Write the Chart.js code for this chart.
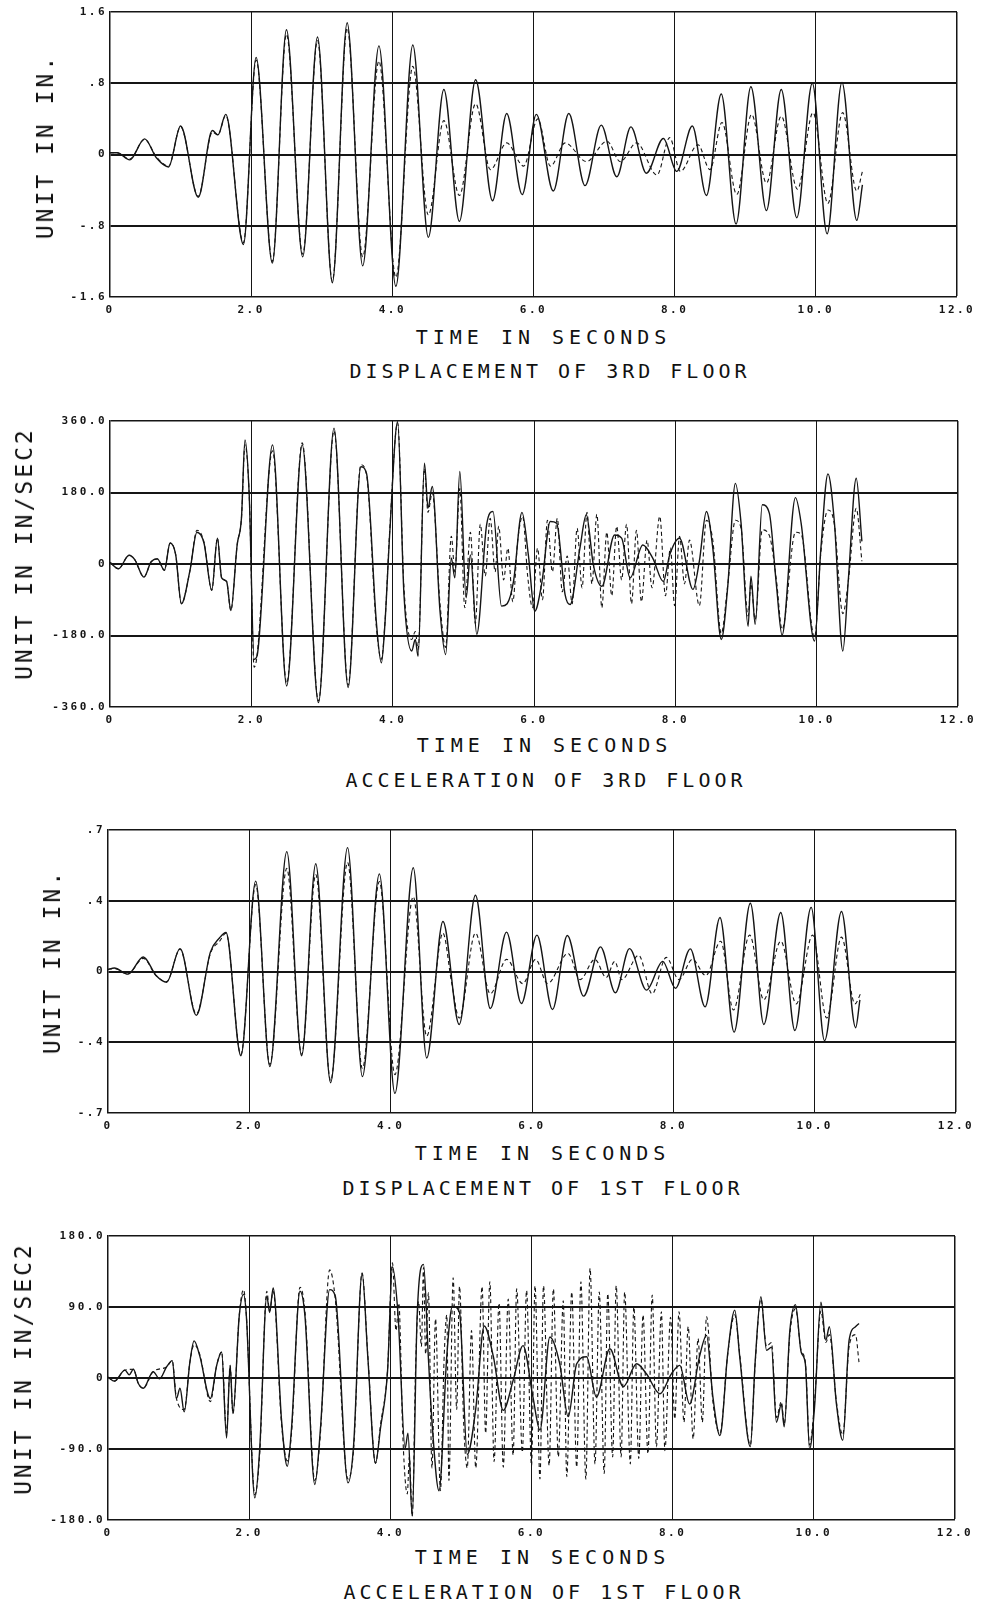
<!DOCTYPE html>
<html>
<head>
<meta charset="utf-8">
<script src="https://cdn.jsdelivr.net/npm/chart.js@4.4.0/dist/chart.umd.min.js"></script>
<style>
  html, body { margin: 0; padding: 0; background: #fff; }
  #page { position: relative; width: 981px; height: 1608px; overflow: hidden; }
  canvas { position: absolute; left: 0; }
  .lbl { position: absolute; font-family: "DejaVu Sans Mono", monospace; color: #111; white-space: nowrap; transform: translate(-50%, -50%); }
  .xt { font-size: 20px; letter-spacing: 5px; padding-left: 5px; }
  .ttl { font-size: 20px; letter-spacing: 4px; padding-left: 4px; }
  .yt { font-size: 23px; letter-spacing: 3px; padding-left: 3px; transform: translate(-50%, -50%) rotate(-90deg); }
</style>
</head>
<body>
<div id="page"></div>
<script>
// time axis (seconds)
const timeTicks = [0, 2, 4, 6, 8, 10, 12];
const timeLabels = ['0', '2.0', '4.0', '6.0', '8.0', '10.0', '12.0'];

// displacement of 3rd floor (in.)  [t, value]
const disp3TickValues = [-1.6, -0.8, 0, 0.8, 1.6];
const disp3TickLabels = ['-1.6', '-.8', '0', '.8', '1.6'];
const disp3Solid = [[0,0.02],[0.1,0.02],[0.28,-0.06],[0.49,0.175],[0.66,-0.04],[0.83,-0.14],[1.0,0.32],[1.25,-0.48],[1.45,0.27],[1.53,0.22],[1.64,0.45],[1.89,-1.01],[2.07,1.09],[2.30,-1.22],[2.50,1.40],[2.73,-1.15],[2.94,1.32],[3.15,-1.44],[3.36,1.48],[3.58,-1.25],[3.81,1.22],[4.05,-1.48],[4.29,1.23],[4.51,-0.93],[4.73,0.73],[4.95,-0.75],[5.18,0.84],[5.42,-0.52],[5.62,0.46],[5.84,-0.45],[6.04,0.45],[6.28,-0.41],[6.50,0.46],[6.73,-0.35],[6.96,0.33],[7.18,-0.25],[7.38,0.31],[7.60,-0.21],[7.84,0.18],[8.03,-0.19],[8.25,0.32],[8.45,-0.46],[8.66,0.68],[8.87,-0.78],[9.08,0.76],[9.30,-0.63],[9.51,0.73],[9.73,-0.71],[9.95,0.80],[10.16,-0.89],[10.37,0.81],[10.58,-0.74],[10.66,-0.34]];
const disp3Dashed = [[0,0.02],[0.1,0.02],[0.28,-0.05],[0.49,0.17],[0.66,-0.03],[0.83,-0.13],[1.0,0.31],[1.25,-0.47],[1.45,0.25],[1.53,0.22],[1.64,0.44],[1.89,-0.99],[2.07,1.06],[2.30,-1.20],[2.50,1.35],[2.73,-1.12],[2.94,1.28],[3.15,-1.42],[3.36,1.42],[3.58,-1.15],[3.81,1.05],[4.05,-1.38],[4.29,0.99],[4.51,-0.68],[4.73,0.38],[4.95,-0.46],[5.18,0.57],[5.39,-0.17],[5.62,0.13],[5.86,-0.13],[6.06,0.40],[6.24,-0.13],[6.45,0.13],[6.75,-0.08],[7.04,0.15],[7.23,-0.08],[7.46,0.13],[7.75,-0.23],[7.93,0.19],[8.08,-0.19],[8.33,0.11],[8.50,-0.17],[8.67,0.36],[8.88,-0.45],[9.09,0.45],[9.30,-0.32],[9.51,0.43],[9.74,-0.39],[9.96,0.47],[10.17,-0.55],[10.38,0.47],[10.58,-0.41],[10.66,-0.19]];

// acceleration of 3rd floor (in/sec2)
const acc3TickValues = [-360, -180, 0, 180, 360];
const acc3TickLabels = ['-360.0', '-180.0', '0', '180.0', '360.0'];
const acc3Solid = [[0,4],[0.12,-12],[0.27,22],[0.35,11],[0.48,-33],[0.58,5],[0.67,13],[0.77,-16],[0.85,53],[0.93,23],[1.01,-100],[1.13,-18],[1.23,80],[1.33,53],[1.44,-66],[1.52,65],[1.58,-35],[1.65,-44],[1.71,-117],[1.80,49],[1.86,115],[1.91,312],[1.97,174],[2.04,-240],[2.08,-232],[2.30,300],[2.50,-307],[2.72,300],[2.95,-349],[3.17,342],[3.37,-311],[3.55,245],[3.63,228],[3.77,-148],[3.84,-249],[3.89,-152],[3.96,82],[4.07,358],[4.16,-77],[4.27,-219],[4.32,-190],[4.36,-232],[4.45,254],[4.50,141],[4.56,195],[4.67,-119],[4.75,-228],[4.83,15],[4.88,-35],[4.95,233],[5.04,-85],[5.10,23],[5.19,-177],[5.33,99],[5.42,132],[5.54,-106],[5.62,-100],[5.71,-44],[5.83,130],[5.92,23],[6.01,-119],[6.11,-48],[6.23,107],[6.32,103],[6.44,-77],[6.51,-102],[6.65,40],[6.74,124],[6.84,-2],[6.96,-56],[7.14,73],[7.24,65],[7.36,-35],[7.54,48],[7.68,15],[7.83,-44],[7.92,23],[8.06,65],[8.25,-64],[8.34,7],[8.44,132],[8.53,40],[8.65,-190],[8.74,-60],[8.85,203],[8.93,103],[9.03,-157],[9.07,-31],[9.13,-152],[9.23,149],[9.33,128],[9.43,-52],[9.51,-179],[9.70,167],[9.78,103],[9.97,-194],[10.06,40],[10.16,227],[10.25,107],[10.37,-219],[10.45,-35],[10.56,216],[10.64,57]];
const acc3Dashed = [[0,4],[0.12,-12],[0.27,22],[0.35,11],[0.48,-33],[0.58,5],[0.67,13],[0.77,-16],[0.85,53],[0.93,23],[1.01,-100],[1.13,-18],[1.23,85],[1.33,55],[1.44,-66],[1.52,65],[1.58,-35],[1.65,-44],[1.71,-117],[1.80,49],[1.86,115],[1.91,300],[1.97,174],[2.04,-260],[2.08,-232],[2.30,285],[2.50,-300],[2.72,305],[2.95,-345],[3.17,335],[3.37,-305],[3.55,250],[3.63,225],[3.77,-160],[3.84,-240],[3.89,-150],[3.96,90],[4.07,355],[4.16,-60],[4.27,-190],[4.32,-170],[4.36,-215],[4.45,240],[4.50,130],[4.56,180],[4.67,-100],[4.75,-210],[4.83,70],[4.88,-20],[4.95,190],[5.02,-110],[5.10,80],[5.17,-150],[5.24,100],[5.31,-30],[5.38,115],[5.45,-20],[5.50,95],[5.57,-40],[5.63,40],[5.70,-95],[5.77,60],[5.84,120],[5.91,-30],[5.98,-110],[6.05,40],[6.12,-90],[6.19,110],[6.26,-20],[6.33,115],[6.40,-70],[6.47,20],[6.54,-100],[6.61,90],[6.68,-60],[6.75,130],[6.82,-50],[6.89,125],[6.96,-110],[7.03,80],[7.10,-80],[7.17,95],[7.24,-40],[7.31,100],[7.38,-100],[7.45,85],[7.52,-95],[7.60,60],[7.67,-60],[7.78,120],[7.86,-80],[7.93,40],[7.99,-105],[8.06,70],[8.13,-50],[8.20,60],[8.34,-105],[8.44,110],[8.53,60],[8.65,-175],[8.74,-55],[8.85,110],[8.93,90],[9.03,-131],[9.07,-50],[9.13,-140],[9.23,86],[9.33,72],[9.43,-40],[9.51,-165],[9.70,80],[9.78,75],[9.97,-185],[10.06,30],[10.16,136],[10.25,100],[10.37,-125],[10.45,-40],[10.56,140],[10.64,7]];

// displacement of 1st floor (in.)
const disp1TickValues = [-0.7, -0.35, 0, 0.35, 0.7];
const disp1TickLabels = ['-.7', '-.4', '0', '.4', '.7'];
const disp1Solid = [[0,0.01],[0.09,0.017],[0.28,-0.013],[0.50,0.072],[0.68,-0.02],[0.83,-0.053],[1.02,0.113],[1.25,-0.217],[1.45,0.097],[1.58,0.167],[1.67,0.193],[1.88,-0.417],[2.09,0.447],[2.29,-0.47],[2.53,0.593],[2.74,-0.417],[2.94,0.533],[3.15,-0.55],[3.39,0.613],[3.60,-0.52],[3.84,0.483],[4.06,-0.603],[4.32,0.513],[4.51,-0.428],[4.74,0.247],[4.97,-0.262],[5.20,0.377],[5.41,-0.183],[5.64,0.195],[5.85,-0.158],[6.07,0.180],[6.29,-0.188],[6.50,0.178],[6.73,-0.122],[6.97,0.122],[7.18,-0.105],[7.38,0.113],[7.62,-0.092],[7.85,0.05],[8.03,-0.083],[8.24,0.112],[8.45,-0.175],[8.66,0.267],[8.86,-0.30],[9.09,0.338],[9.28,-0.262],[9.52,0.292],[9.72,-0.292],[9.95,0.317],[10.14,-0.342],[10.38,0.297],[10.58,-0.278],[10.64,-0.14]];
const disp1Dashed = [[0,0.01],[0.09,0.015],[0.28,-0.012],[0.50,0.065],[0.68,-0.02],[0.83,-0.05],[1.02,0.11],[1.25,-0.21],[1.45,0.09],[1.58,0.15],[1.67,0.19],[1.88,-0.41],[2.09,0.43],[2.29,-0.46],[2.53,0.51],[2.74,-0.41],[2.94,0.48],[3.15,-0.54],[3.39,0.54],[3.60,-0.48],[3.84,0.445],[4.06,-0.51],[4.32,0.37],[4.51,-0.32],[4.74,0.19],[4.86,-0.05],[4.97,-0.23],[5.20,0.19],[5.41,-0.11],[5.64,0.06],[5.87,-0.06],[6.05,0.06],[6.22,-0.06],[6.51,0.09],[6.68,-0.04],[6.89,0.06],[7.05,-0.03],[7.17,0.05],[7.27,-0.04],[7.51,0.08],[7.70,-0.11],[7.90,0.07],[8.08,-0.04],[8.27,0.06],[8.46,-0.02],[8.67,0.15],[8.85,-0.19],[9.08,0.18],[9.28,-0.14],[9.52,0.15],[9.74,-0.16],[9.97,0.18],[10.17,-0.23],[10.38,0.17],[10.57,-0.16],[10.65,-0.11]];

// acceleration of 1st floor (in/sec2)
const acc1TickValues = [-180, -90, 0, 90, 180];
const acc1TickLabels = ['-180.0', '-90.0', '0', '90.0', '180.0'];
const acc1Solid = [[0,1],[0.09,-4],[0.24,10],[0.30,4],[0.36,11],[0.43,-7],[0.50,-13],[0.64,8],[0.73,-1],[0.83,14],[0.91,22],[0.97,-26],[1.02,-13],[1.08,-43],[1.16,20],[1.22,47],[1.30,28],[1.45,-26],[1.54,16],[1.61,33],[1.68,-76],[1.73,16],[1.77,-45],[1.86,79],[1.92,106],[1.96,79],[2.08,-152],[2.15,-89],[2.25,104],[2.29,83],[2.34,114],[2.46,-55],[2.54,-112],[2.60,-64],[2.72,110],[2.79,79],[2.93,-135],[3.01,-64],[3.14,112],[3.22,104],[3.40,-133],[3.48,-85],[3.60,133],[3.68,28],[3.79,-108],[3.86,-64],[3.96,8],[4.03,141],[4.11,79],[4.21,-89],[4.25,-70],[4.31,-175],[4.38,79],[4.47,144],[4.54,24],[4.59,-55],[4.69,-143],[4.80,28],[4.88,91],[4.98,83],[5.09,-97],[5.21,-39],[5.33,66],[5.46,27],[5.60,-41],[5.74,-3],[5.88,41],[6.02,-24],[6.12,-66],[6.26,52],[6.40,18],[6.52,-49],[6.64,18],[6.78,27],[6.92,-24],[7.11,37],[7.30,-11],[7.49,18],[7.63,5],[7.82,-20],[7.98,5],[8.10,16],[8.24,-33],[8.38,27],[8.48,54],[8.57,-24],[8.67,-73],[8.78,31],[8.88,86],[8.95,27],[9.10,-87],[9.17,22],[9.25,103],[9.33,35],[9.40,39],[9.47,-56],[9.54,-33],[9.58,-62],[9.66,60],[9.74,93],[9.82,33],[9.88,18],[9.94,-90],[10.01,-37],[10.10,96],[10.17,48],[10.22,65],[10.32,-33],[10.41,-79],[10.50,48],[10.59,65],[10.64,69]];
const acc1Dashed = [[0,1],[0.09,-4],[0.24,10],[0.36,11],[0.43,-7],[0.50,-13],[0.64,8],[0.83,14],[0.91,22],[0.97,-26],[1.08,-40],[1.16,20],[1.22,42],[1.30,30],[1.45,-30],[1.54,16],[1.61,33],[1.68,-70],[1.73,16],[1.77,-45],[1.86,80],[1.92,112],[1.96,80],[2.08,-148],[2.15,-95],[2.25,110],[2.29,85],[2.34,110],[2.46,-60],[2.54,-105],[2.60,-70],[2.72,115],[2.79,85],[2.93,-130],[3.01,-70],[3.14,137],[3.22,100],[3.40,-128],[3.48,-90],[3.60,133],[3.68,30],[3.79,-108],[3.86,-60],[3.96,10],[4.03,146],[4.08,60],[4.12,95],[4.18,-80],[4.24,-147],[4.27,-100],[4.31,-175],[4.36,20],[4.40,97],[4.44,40],[4.47,140],[4.50,30],[4.54,108],[4.59,-114],[4.64,75],[4.71,-143],[4.76,20],[4.80,80],[4.83,-130],[4.89,127],[4.94,-40],[4.98,116],[5.04,-60],[5.09,-114],[5.15,60],[5.21,-114],[5.30,116],[5.35,-70],[5.41,122],[5.47,-106],[5.54,95],[5.60,-113],[5.67,100],[5.74,-98],[5.79,113],[5.87,-94],[5.93,111],[6.00,-111],[6.05,117],[6.12,-128],[6.17,117],[6.25,-111],[6.31,113],[6.38,-100],[6.45,98],[6.50,-125],[6.57,109],[6.64,-113],[6.70,122],[6.77,-128],[6.83,139],[6.90,-109],[6.96,109],[7.03,-121],[7.08,107],[7.15,-100],[7.20,117],[7.27,-100],[7.32,109],[7.40,-109],[7.45,90],[7.52,-102],[7.58,80],[7.65,-96],[7.71,105],[7.77,-87],[7.84,84],[7.89,-92],[7.97,77],[8.03,-52],[8.09,84],[8.16,-56],[8.22,65],[8.29,-77],[8.36,50],[8.42,-56],[8.48,78],[8.57,-30],[8.67,-70],[8.78,30],[8.88,80],[8.95,30],[9.10,-85],[9.17,20],[9.25,100],[9.33,40],[9.40,45],[9.47,-50],[9.54,-30],[9.58,-58],[9.66,55],[9.74,88],[9.82,35],[9.88,20],[9.94,-85],[10.01,-30],[10.10,85],[10.17,45],[10.22,55],[10.32,-30],[10.41,-72],[10.50,40],[10.59,55],[10.64,20]];

// layout of the four panels (plot-area pixel edges)
const panels = [
  { top: 12,   bottom: 297,  left: 110, right: 957, tv: disp3TickValues, tl: disp3TickLabels, solid: disp3Solid, dashed: disp3Dashed,
    yTitle: 'UNIT IN IN.', yTitlePos: [45, 148], title: 'DISPLACEMENT OF 3RD FLOOR', timePos: [541, 337], titlePos: [548, 371] },
  { top: 421,  bottom: 707,  left: 110, right: 958, tv: acc3TickValues, tl: acc3TickLabels, solid: acc3Solid, dashed: acc3Dashed,
    yTitle: 'UNIT IN IN/SEC2', yTitlePos: [24, 555], title: 'ACCELERATION OF 3RD FLOOR', timePos: [542, 745], titlePos: [544, 780] },
  { top: 830,  bottom: 1113, left: 108, right: 956, tv: disp1TickValues, tl: disp1TickLabels, solid: disp1Solid, dashed: disp1Dashed,
    yTitle: 'UNIT IN IN.', yTitlePos: [52, 963], title: 'DISPLACEMENT OF 1ST FLOOR', timePos: [540, 1153], titlePos: [541, 1188] },
  { top: 1236, bottom: 1520, left: 108, right: 955, tv: acc1TickValues, tl: acc1TickLabels, solid: acc1Solid, dashed: acc1Dashed,
    yTitle: 'UNIT IN IN/SEC2', yTitlePos: [23, 1370], title: 'ACCELERATION OF 1ST FLOOR', timePos: [540, 1557], titlePos: [542, 1592] }
];

const INK = '#151515';
const spacing = {
  id: 'spacing',
  beforeDraw(chart) { chart.ctx.letterSpacing = '2.5px'; }
};

const page = document.getElementById('page');

function addLabel(text, cls, pos) {
  const d = document.createElement('div');
  d.className = 'lbl ' + cls;
  d.textContent = text;
  d.style.left = pos[0] + 'px';
  d.style.top = pos[1] + 'px';
  page.appendChild(d);
}

panels.forEach(p => {
  const cv = document.createElement('canvas');
  const h = 10 + (p.bottom - p.top) + 24;
  cv.width = 981; cv.height = h;
  cv.style.top = (p.top - 10) + 'px';
  page.appendChild(cv);

  const yMin = p.tv[0], yMax = p.tv[p.tv.length - 1];
  const toXY = arr => arr.map(([x, y]) => ({ x, y }));

  new Chart(cv.getContext('2d'), {
    type: 'line',
    data: {
      datasets: [
        { data: toXY(p.dashed), borderColor: INK, borderWidth: 1.1, borderDash: [4, 3], pointRadius: 0, cubicInterpolationMode: 'monotone', fill: false },
        { data: toXY(p.solid), borderColor: INK, borderWidth: 1.4, pointRadius: 0, cubicInterpolationMode: 'monotone', fill: false }
      ]
    },
    options: {
      responsive: false,
      animation: false,
      devicePixelRatio: 1,
      layout: { padding: { top: 10, right: 981 - p.right, bottom: 0, left: 0 } },
      plugins: { legend: { display: false }, tooltip: { enabled: false } },
      scales: {
        x: {
          type: 'linear', min: 0, max: 12,
          afterFit: s => { s.height = 24; },
          afterBuildTicks: s => { s.ticks = timeTicks.map(v => ({ value: v })); },
          ticks: {
            autoSkip: false, maxRotation: 0, padding: 7, color: INK,
            font: { family: 'DejaVu Sans Mono', size: 11, weight: 'bold' },
            callback: (v, i) => timeLabels[i]
          },
          grid: {
            drawTicks: false, color: INK,
            lineWidth: c => (c.tick && c.tick.value === 0) ? 0 : (c.tick && c.tick.value === 12 ? 1.5 : 1)
          },
          border: { display: true, color: INK, width: 1.5 }
        },
        y: {
          type: 'linear', min: yMin, max: yMax,
          afterFit: s => { s.width = p.left; },
          afterBuildTicks: s => { s.ticks = p.tv.map(v => ({ value: v })); },
          ticks: {
            autoSkip: false, padding: 3, color: INK,
            font: { family: 'DejaVu Sans Mono', size: 11, weight: 'bold' },
            callback: (v, i) => p.tl[i]
          },
          grid: {
            drawTicks: false, color: INK,
            lineWidth: c => (c.tick && c.tick.value === yMin) ? 0 : (c.tick && c.tick.value === yMax ? 1.5 : 2)
          },
          border: { display: true, color: INK, width: 1.5 }
        }
      }
    },
    plugins: [spacing]
  });

  addLabel(p.yTitle, 'yt', p.yTitlePos);
  addLabel('TIME IN SECONDS', 'xt', p.timePos);
  addLabel(p.title, 'ttl', p.titlePos);
});
</script>
</body>
</html>
